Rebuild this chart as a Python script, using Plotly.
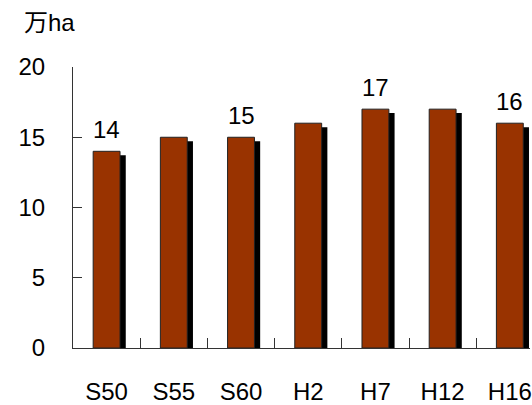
import plotly.graph_objects as go

# Planted area by survey year (unit: 10,000 ha)
years = ["S50", "S55", "S60", "H2", "H7", "H12", "H16"]
area = [14, 15, 15, 16, 17, 17, 16]
labelled = ["S50", "S60", "H7", "H16"]

BAR_COLOR = "#993300"
FONT = "Liberation Sans, Arial, Noto Sans CJK JP, sans-serif"
AXIS_COLOR = "#333333"

fig = go.Figure()

# drop shadow behind each bar
fig.add_trace(go.Bar(
    x=years, y=[v - 0.28 for v in area],
    width=0.4, offset=-0.115,
    marker=dict(color="black", line=dict(width=0)),
    hoverinfo="skip", showlegend=False,
))

# main bars
fig.add_trace(go.Bar(
    x=years, y=area,
    width=0.4, offset=-0.2,
    marker=dict(color=BAR_COLOR, line=dict(color="#222222", width=1)),
    showlegend=False,
))

annotations = [
    dict(x=yr, y=v, xref="x", yref="y", text=str(v), showarrow=False,
         yanchor="bottom", xanchor="center", yshift=6,
         font=dict(size=24, color="black", family=FONT))
    for yr, v in zip(years, area) if yr in labelled
]
annotations.append(dict(
    x=-0.052, y=1.16, xref="paper", yref="paper", text="万ha",
    showarrow=False, xanchor="center", yanchor="middle",
    font=dict(size=24, color="black", family=FONT),
))

fig.update_layout(
    width=532, height=405,
    margin=dict(l=73, r=0, t=67, b=57),
    paper_bgcolor="white", plot_bgcolor="white",
    barmode="overlay",
    font=dict(family=FONT, size=24, color="black"),
    annotations=annotations,
    xaxis=dict(
        type="category", range=[-0.5, 6.3],
        showline=True, linecolor=AXIS_COLOR, linewidth=1,
        ticks="inside", ticklen=10, tickcolor=AXIS_COLOR, tickwidth=1,
        tickson="boundaries", showgrid=False,
        ticklabelstandoff=22,
        tickfont=dict(size=24, family=FONT),
    ),
    yaxis=dict(
        range=[0, 20], tickvals=[0, 5, 10, 15, 20],
        showline=True, linecolor=AXIS_COLOR, linewidth=1,
        ticks="inside", ticklen=9, tickcolor=AXIS_COLOR, tickwidth=1,
        showgrid=False, zeroline=False,
        ticklabelstandoff=22,
        tickfont=dict(size=24, family=FONT),
    ),
)

fig.write_html("out.html")
